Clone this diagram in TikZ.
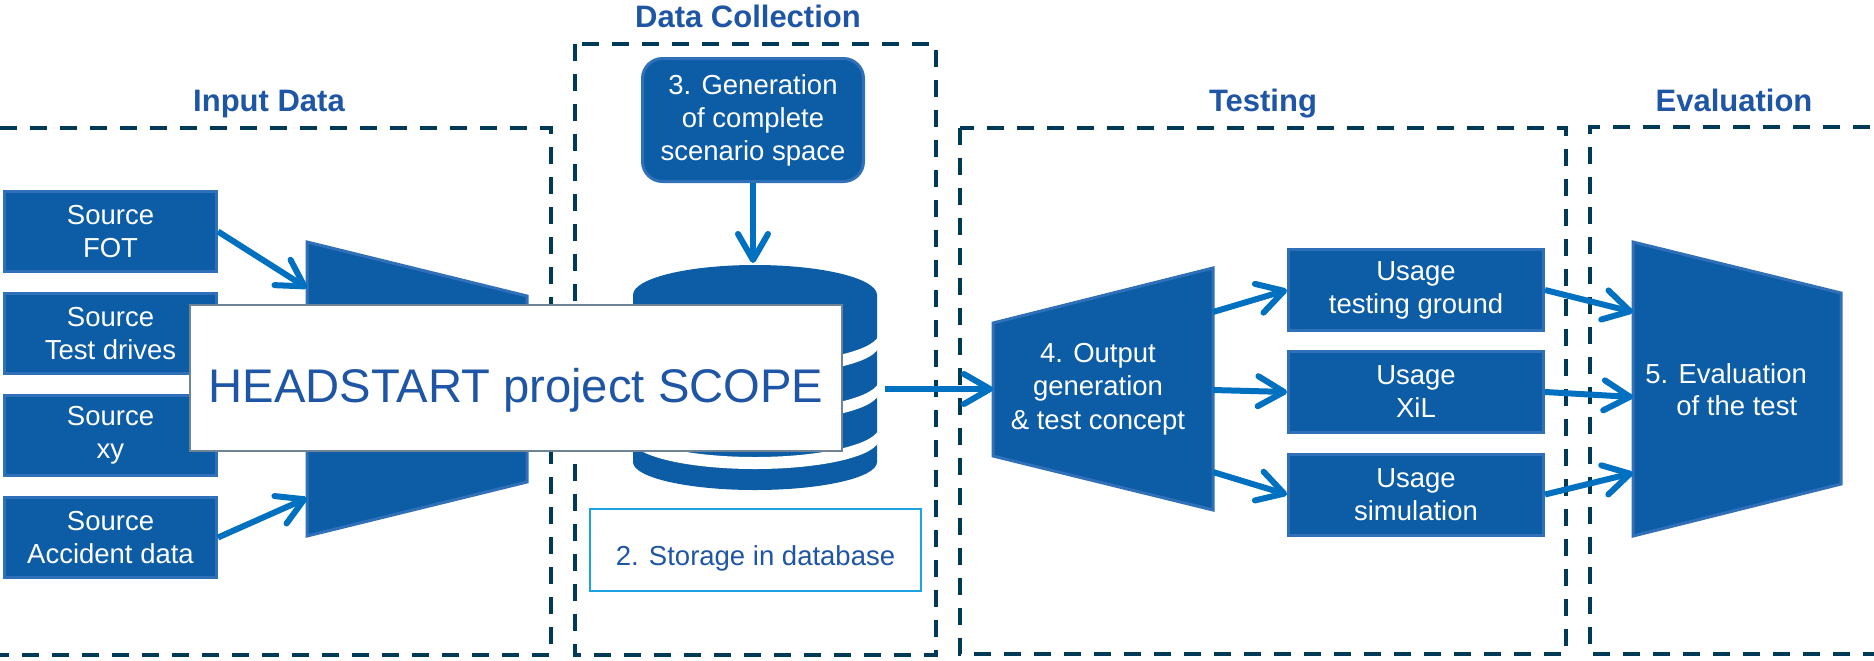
\documentclass[tikz,border=0pt]{standalone}
\usepackage{fontspec}
\setmainfont{Liberation Sans}
\usetikzlibrary{arrows.meta}
\definecolor{boxfill}{HTML}{0C5DA6}
\definecolor{boxline}{HTML}{2F70B8}
\definecolor{arrowc}{HTML}{0070C0}
\definecolor{dashc}{HTML}{003A57}
\definecolor{titlec}{HTML}{1E55A5}
\definecolor{storec}{HTML}{1CA3E3}
\definecolor{scopeline}{HTML}{6F8396}
\newcommand\bodyfnt{\fontsize{13.75pt}{16.5pt}\selectfont}
\begin{document}
\begin{tikzpicture}[x=0.5pt,y=-0.5pt,
  dashbox/.style={draw=dashc, line width=2pt, dash pattern=on 8.5pt off 6.5pt},
  titletext/.style={text=titlec, font=\fontsize{15.5pt}{18pt}\selectfont\bfseries, anchor=base, inner sep=0pt},
  bluebox/.style={draw=boxline, fill=boxfill, line width=1.5pt, text=white, align=center, inner sep=0pt, font=\bodyfnt},
  trap/.style={draw=boxline, fill=boxfill, line width=1.5pt},
  flow/.style={draw=arrowc, line width=3pt, -{Straight Barb[length=13pt, width=15pt, line cap=round, line join=round]}},
]
\useasboundingbox (0,0) rectangle (1874,660);
\clip (0,0) rectangle (1874,660);

% region frames
\draw[dashbox] (-30,128) -- (551,128) -- (551,655) -- (-30,655);
\draw[dashbox] (575,44) rectangle (936,655);
\draw[dashbox] (960,128) rectangle (1566,654);
\draw[dashbox] (1900,127) -- (1590,127) -- (1590,654) -- (1900,654);

% titles
\node[titletext] (tin) at (269,111) {Input Data};
\node[titletext] (tdc) at (748,27) {Data Collection};
\node[titletext] (tte) at (1263,111) {Testing};
\node[titletext] (tev) at (1734,111) {Evaluation};

% sources
\node[bluebox, minimum width=106pt, minimum height=40pt] (fot) at (110.5,231.5) {Source\\FOT};
\node[bluebox, minimum width=106pt, minimum height=40pt] (tdr) at (110.5,333.5) {Source\\Test drives};
\node[bluebox, minimum width=106pt, minimum height=40pt] (sxy) at (110.5,435.5) {Source\\xy};
\node[bluebox, minimum width=106pt, minimum height=40pt] (acc) at (110.5,537.5) {Source\\Accident data};

% input funnel
\draw[trap] (307,242) -- (527,296) -- (527,482) -- (307,536) -- cycle;
\coordinate (t1a) at (307,288);
\coordinate (t1b) at (307,498);

% generation box
\node[bluebox, rounded corners=10pt, minimum width=110.5pt, minimum height=61.5pt] (gen) at (753,120) {3. Generation\\of complete\\scenario space};

% database cylinder
\fill[boxfill] (633,295) -- (633,462) arc[start angle=180, end angle=360, x radius=61pt, y radius=14pt]
  -- (877,295) arc[start angle=0, end angle=180, x radius=61pt, y radius=15pt] -- cycle;
\foreach \c in {333,380,427}{
  \fill[white] (631,\c) arc[start angle=180, end angle=360, x radius=62pt, y radius=15pt]
    -- (879,\c+12) arc[start angle=360, end angle=180, x radius=62pt, y radius=15pt] -- cycle;
}
\coordinate (cyltop) at (753,263);
\coordinate (cylr) at (885,389);

% storage label
\node[draw=storec, line width=1pt, minimum width=165.5pt, minimum height=41pt, inner sep=0pt,
  text=titlec, font=\bodyfnt, text height=15pt, text depth=0pt] (store) at (755.5,550) {2. Storage in database};

% output generation
\draw[trap] (993,323) -- (1213,268) -- (1213,510) -- (993,456) -- cycle;
\node[text=white, align=center, inner sep=0pt, font=\fontsize{13.75pt}{16.75pt}\selectfont] (outg) at (1098,389) {4. Output\\generation\\\& test concept};
\coordinate (t4in) at (993,389);
\coordinate (t4o1) at (1213,312);
\coordinate (t4o2) at (1213,390);
\coordinate (t4o3) at (1213,472);

% usage boxes
\node[bluebox, minimum width=127.5pt, minimum height=40.5pt] (use1) at (1416,290) {Usage\\testing ground};
\node[bluebox, minimum width=127.5pt, minimum height=40.5pt] (use2) at (1416,392) {Usage\\XiL};
\node[bluebox, minimum width=127.5pt, minimum height=40.5pt] (use3) at (1416,494.5) {Usage\\simulation};

% evaluation
\draw[trap] (1633,242) -- (1841,293) -- (1841,484) -- (1633,536) -- cycle;
\node[text=white, align=left, inner sep=0pt, anchor=north west, font=\fontsize{13.75pt}{16pt}\selectfont] (evalt) at (1645,363) {5. Evaluation\\\hspace*{15.5pt}of the test};
\coordinate (t5i1) at (1633,312);
\coordinate (t5i2) at (1633,397);
\coordinate (t5i3) at (1633,473);

% connectors
\draw[flow] (fot.east) -- (t1a);
\draw[flow] (acc.east) -- (t1b);
\draw[flow] (gen.south) -- (cyltop);
\draw[flow] (cylr) -- (t4in);
\draw[flow] (t4o1) -- (use1.west);
\draw[flow] (t4o2) -- (use2.west);
\draw[flow] (t4o3) -- (use3.west);
\draw[flow] (use1.east) -- (t5i1);
\draw[flow] (use2.east) -- (t5i2);
\draw[flow] (use3.east) -- (t5i3);

% scope overlay
\node[draw=scopeline, fill=white, line width=1pt, minimum width=326pt, minimum height=73pt, inner sep=0pt,
  text=titlec, font=\fontsize{23.6pt}{28pt}\selectfont, text height=24pt, text depth=0pt] (scope) at (516,378) {HEADSTART project SCOPE};
\end{tikzpicture}
\end{document}
